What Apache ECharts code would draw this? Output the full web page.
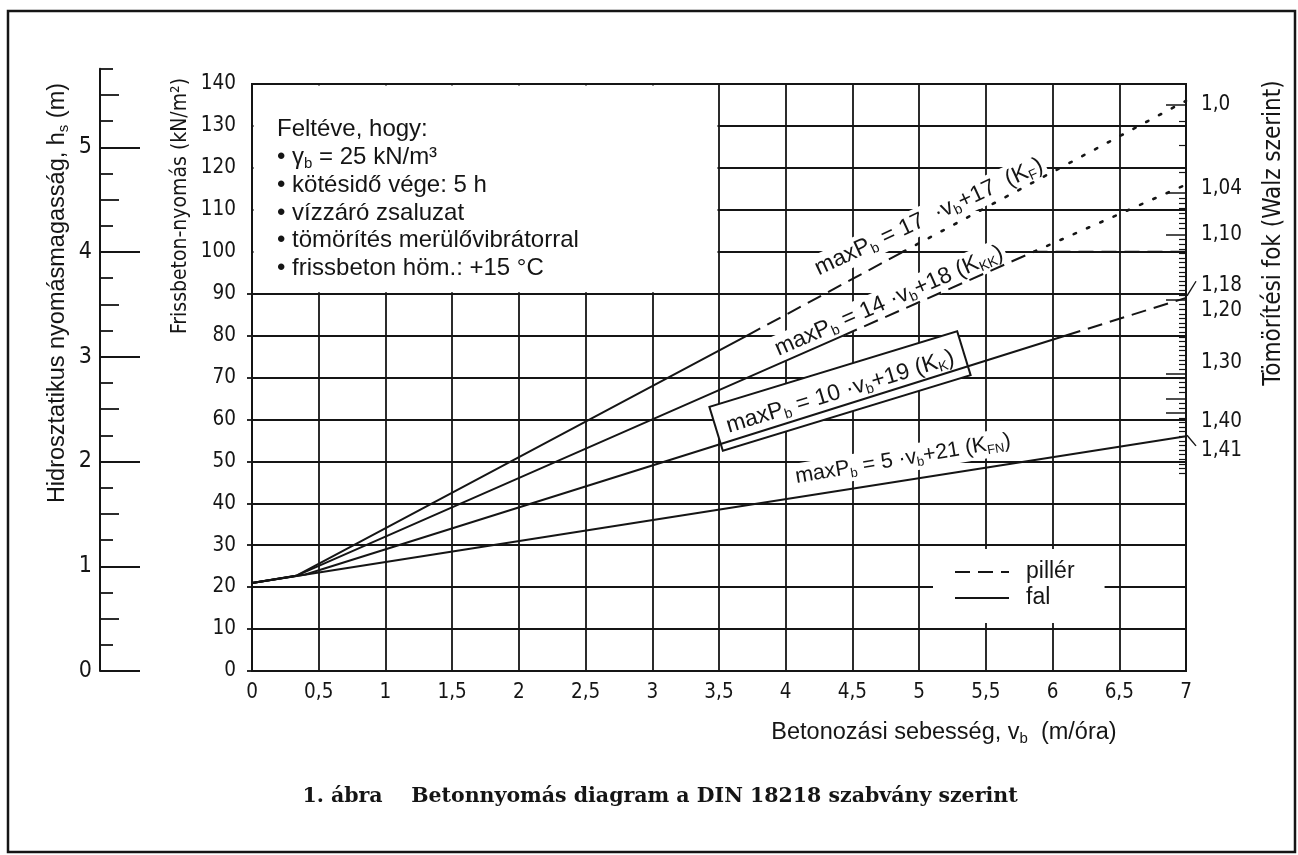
<!DOCTYPE html>
<html><head><meta charset="utf-8">
<script src="https://cdn.jsdelivr.net/npm/echarts@6/dist/echarts.min.js"></script>
<style>html,body{margin:0;padding:0;background:#fff}#c{width:1298px;height:855px}</style>
</head><body><div id="c"></div>
<script>
// ---------- data ----------
const xTickLabels = ['0','0,5','1','1,5','2','2,5','3','3,5','4','4,5','5','5,5','6','6,5','7'];
const pressureTicksOut = [0,10,20,30,40,50,60,70,80,90];
const hsLabels = [0,1,2,3,4,5];
const hsHalfTicks = [0.5,1.5,2.5,3.5,4.5,5.5];
const hsQuarterTicks = [0.25,0.75,1.25,1.75,2.25,2.75,3.25,3.75,4.25,4.75,5.25,5.75];
const compactionValues = [135,115,104,92,86,73.5,59.5,52.5];
const compactionLabels = ['1,0','1,04','1,10','1,18','1,20','1,30','1,40','1,41'];
const compactionMajorTicks = [135,114,104,88.5,71,65,61.5];
const compactionMinorTicks = [131,125.5,119,112.8,111.6,110.4,109.2,108,106.8,105.6,102.9,101.8,100.7,99.6,98.5,97.4,96.3,95.2,94.1,93,91.9,90.8,89.7,87.4,86.3,85.2,84.1,83,81.9,80.8,79.7,78.6,77.5,76.4,75.3,74.2,73.1,72,69.9,68.8,67.7,66.6,63.8,62.7,60.4,59.3,58.2,57.1,56,54.9,53.8,52.7,51.6,50.5,49.4,48.3,47.2];

// lines  [v_b (m/óra), maxP_b (kN/m2)]
const KFN_fal    = [[0,21],[7,56]];
const KK_fal     = [[0,21],[0.4,23],[6.1,80]];
const KK_piller  = [[6.1,80],[7,89]];
const KKK_fal    = [[0,21],[0.33,22.7],[4.43,80]];
const KKK_piller = [[4.43,80],[5.86,100],[7,100]];
const KKK_pont   = [[5.86,100],[7,116]];
const KF_fal     = [[0,21],[0.33,22.7],[3.71,80]];
const KF_piller  = [[3.71,80],[4.88,100]];
const KF_pont    = [[4.88,100],[7,136]];

// ---------- styling ----------
const INK = '#151515';
const TECH = "'DejaVu Sans Condensed','Liberation Sans Narrow','DejaVu Sans',sans-serif";
const SANS = "'Liberation Sans',Arial,sans-serif";
const SERIF = "'DejaVu Serif',serif";
const DASH = [15, 8];
const DOT = [2.5, 12];

const chart = echarts.init(document.getElementById('c'), null, {renderer:'canvas', width:1298, height:855});

function ser(name, data, type) {
  return {
    name: name, type: 'line', data: data, xAxisIndex: 0, yAxisIndex: 0,
    symbol: 'none', showSymbol: false, silent: true, z: 3, clip: false,
    itemStyle: {color: INK},
    lineStyle: {color: INK, width: type === DOT ? 2.6 : 2, type: type, cap: type === DOT ? 'round' : 'butt'},
    emphasis: {disabled: true}
  };
}

const tickFont = {color: INK, fontFamily: TECH, fontSize: 20.5};

const option = {
  backgroundColor: '#fff',
  animation: false,
  grid: [
    {left: 252, top: 84, width: 934, height: 587, show: true, borderColor: INK, borderWidth: 2, backgroundColor: 'transparent'},
    {left: 100, top: 68.7, width: 2, height: 602.3, show: false}
  ],
  xAxis: [
    {gridIndex: 0, type: 'value', min: 0, max: 7, interval: 0.5,
     axisLine: {show: false}, axisTick: {show: false},
     splitLine: {show: true, lineStyle: {color: INK, width: 1.8}},
     axisLabel: Object.assign({margin: 11, formatter: v => xTickLabels[Math.round(v * 2)]}, tickFont)},
    {gridIndex: 1, type: 'value', min: 0, max: 1, show: false}
  ],
  yAxis: [
    {gridIndex: 0, type: 'value', min: 0, max: 140, interval: 10, position: 'left',
     axisLine: {show: false}, axisTick: {show: false},
     splitLine: {show: true, lineStyle: {color: INK, width: 1.8}},
     axisLabel: Object.assign({margin: 16}, tickFont)},
    {gridIndex: 0, type: 'value', min: 0, max: 140, position: 'left',
     axisLine: {show: false}, splitLine: {show: false}, axisLabel: {show: false},
     axisTick: {show: true, length: 5, customValues: pressureTicksOut, lineStyle: {color: INK, width: 1.8}}},
    {gridIndex: 0, type: 'value', min: 0, max: 140, position: 'right',
     axisLine: {show: false}, splitLine: {show: false},
     axisTick: {show: true, inside: true, length: 20, customValues: compactionMajorTicks, lineStyle: {color: INK, width: 1.5}},
     axisLabel: Object.assign({margin: 15, customValues: compactionValues,
       formatter: v => { for (let i = 0; i < compactionValues.length; i++) if (Math.abs(compactionValues[i] - v) < 1e-6) return compactionLabels[i]; return ''; }}, tickFont)},
    {gridIndex: 0, type: 'value', min: 0, max: 140, position: 'right',
     axisLine: {show: false}, splitLine: {show: false}, axisLabel: {show: false},
     axisTick: {show: true, inside: true, length: 7, customValues: compactionMinorTicks, lineStyle: {color: INK, width: 1.2}}},
    {gridIndex: 1, type: 'value', min: 0, max: 5.75, position: 'left',
     axisLine: {show: true, lineStyle: {color: INK, width: 2}}, splitLine: {show: false},
     axisTick: {show: true, inside: true, length: 40, customValues: hsLabels, lineStyle: {color: INK, width: 1.8}},
     axisLabel: Object.assign({}, tickFont, {fontSize: 23, margin: 8, customValues: hsLabels, formatter: v => String(v)})},
    {gridIndex: 1, type: 'value', min: 0, max: 5.75, position: 'left',
     axisLine: {show: false}, splitLine: {show: false}, axisLabel: {show: false},
     axisTick: {show: true, inside: true, length: 19, customValues: hsHalfTicks, lineStyle: {color: INK, width: 1.8}}},
    {gridIndex: 1, type: 'value', min: 0, max: 5.75, position: 'left',
     axisLine: {show: false}, splitLine: {show: false}, axisLabel: {show: false},
     axisTick: {show: true, inside: true, length: 13, customValues: hsQuarterTicks, lineStyle: {color: INK, width: 1.8}}}
  ],
  legend: {
    show: true, orient: 'vertical', left: 933, top: 549,
    data: [{name: 'pillér'}, {name: 'fal'}],
    backgroundColor: '#fff', padding: [10, 30, 12, 21],
    itemWidth: 54, itemHeight: 14, itemGap: 0, selectedMode: false,
    itemStyle: {color: 'rgba(0,0,0,0)', opacity: 0, borderWidth: 0},
    textStyle: {color: INK, fontFamily: SANS, fontSize: 23, lineHeight: 26, padding: [0, 0, 0, 12]}
  },
  series: [
    ser('pillér', KKK_piller, DASH),
    ser('fal', KFN_fal, 'solid'),
    ser('fal', KK_fal, 'solid'),
    ser('pillér', KK_piller, DASH),
    ser('fal', KKK_fal, 'solid'),
    ser('pont', KKK_pont, DOT),
    ser('fal', KF_fal, 'solid'),
    ser('pillér', KF_piller, DASH),
    ser('pont', KF_pont, DOT)
  ]
};
chart.setOption(option);

// ---------- annotations ----------
const px = p => chart.convertToPixel({xAxisIndex: 0, yAxisIndex: 0}, p);
const tl = px([0, 140]), br = px([3.5, 90]);
const endKK = px([7, 89]), endKFN = px([7, 56]);
const lab118 = px([7, 92]), lab141 = px([7, 52.5]);

function txt(x, y, text, opt) {
  opt = opt || {};
  const st = opt.style || {};
  const fs = st.fontSize || 23;
  const style = Object.assign({
    text: text, fill: INK, fontFamily: SANS, fontSize: fs, lineHeight: Math.round(fs * 1.15),
    align: 'center', verticalAlign: 'middle', textAlign: 'center', textVerticalAlign: 'middle',
    rich: {s: {fontSize: Math.round(fs * 0.62), verticalAlign: 'bottom', lineHeight: Math.round(fs * 0.68), fontFamily: SANS, fill: INK, color: INK}}
  }, st);
  return {type: 'text', x: x, y: y, rotation: (opt.rot || 0) * Math.PI / 180, z: opt.z || 5, silent: true, style: style};
}

const whiteBg = {backgroundColor: '#fff', padding: [1, 3]};

const graphics = [
  // outer frame
  {type: 'rect', shape: {x: 8, y: 11, width: 1287, height: 841}, style: {fill: 'none', stroke: INK, lineWidth: 2.5}, z: 1, silent: true},
  // blank box for the assumptions
  {type: 'rect', shape: {x: tl[0] + 1.5, y: tl[1] + 1.5, width: br[0] - tl[0] - 3, height: br[1] - tl[1] - 3},
   style: {fill: '#fff', stroke: 'none'}, z: 1, silent: true},
  txt(277, 116, 'Feltéve, hogy:\n• γ{s|b} = 25 kN/m³\n• kötésidő vége: 5 h\n• vízzáró zsaluzat\n• tömörítés merülővibrátorral\n• frissbeton höm.: +15 °C',
      {style: {fontSize: 24, align: 'left', textAlign: 'left', verticalAlign: 'top', textVerticalAlign: 'top', lineHeight: 27.7}, z: 2}),
  // line labels
  txt(929, 217, 'maxP{s|b} = 17  ·v{s|b}+17  (K{s|F})', {rot: 25, style: Object.assign({fontSize: 23}, whiteBg), z: 2}),
  txt(889, 301, 'maxP{s|b} = 14 ·v{s|b}+18 (K{s|KK})', {rot: 23.5, style: Object.assign({fontSize: 23}, whiteBg), z: 2}),
  txt(840, 391, 'maxP{s|b} = 10 ·v{s|b}+19 (K{s|K})', {rot: 17, style: {fontSize: 23, backgroundColor: '#fff', borderColor: INK, borderWidth: 2, padding: [10, 10, 8, 10]}, z: 2}),
  txt(903, 459, 'maxP{s|b} = 5 ·v{s|b}+21 (K{s|FN})', {rot: 9.6, style: Object.assign({fontSize: 21.5}, whiteBg), z: 2}),
  // axis titles
  txt(58, 293, 'Hidrosztatikus nyomásmagasság, h{s|s} (m)', {rot: 90, style: {fontSize: 23.5}}),
  txt(181, 206, 'Frissbeton-nyomás (kN/m²)', {rot: 90, style: {fontFamily: TECH, fontSize: 21}}),
  txt(1274, 233, 'Tömörítési fok (Walz szerint)', {rot: 90, style: {fontFamily: TECH, fontSize: 24}}),
  txt(944, 733, 'Betonozási sebesség, v{s|b}  (m/óra)', {style: {fontSize: 23.5}}),
  // caption
  txt(660, 797, '1. ábra    Betonnyomás diagram a DIN 18218 szabvány szerint', {style: {fontFamily: SERIF, fontWeight: 'bold', fontSize: 20.5}}),
  // leader lines of the compaction scale
  {type: 'line', shape: {x1: endKK[0] + 1, y1: endKK[1] - 2, x2: endKK[0] + 10, y2: lab118[1] - 4}, style: {stroke: INK, lineWidth: 1.4}, z: 5, silent: true},
  {type: 'line', shape: {x1: endKFN[0] + 1, y1: endKFN[1] - 1, x2: endKFN[0] + 10, y2: lab141[1] - 5}, style: {stroke: INK, lineWidth: 1.4}, z: 5, silent: true}
];
chart.setOption({graphic: graphics});
</script>
</body></html>
